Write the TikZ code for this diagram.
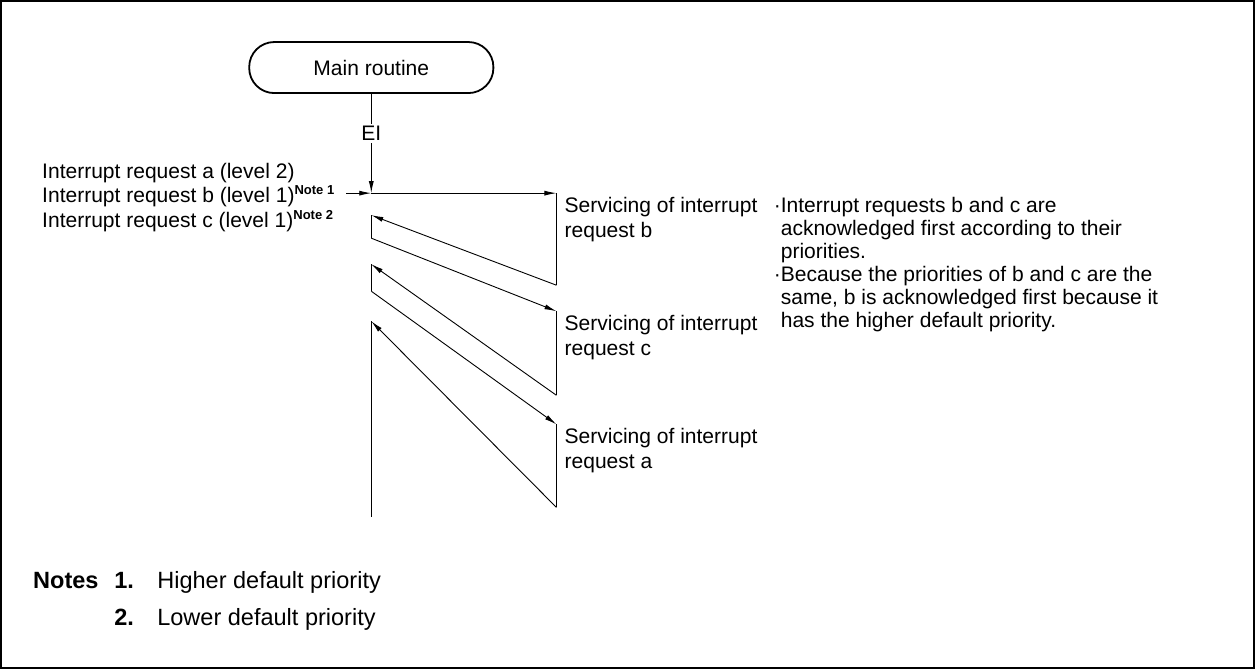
\documentclass[tikz,border=0pt]{standalone}
\usepackage{fontspec}
\setmainfont{Liberation Sans}
\usetikzlibrary{arrows.meta}

\begin{document}
\begin{tikzpicture}[
		x=1pt, y=-1pt,
		every node/.style={inner sep=0pt, font=\fontsize{21}{25}\selectfont},
		terminal/.style={draw, line width=1.8pt, rounded corners=25pt, minimum width=244pt, minimum height=51pt},
		label/.style={anchor=north west, align=left},
		note/.style={anchor=base west, font=\fontsize{23.5}{25}\selectfont},
		flow/.style={line width=0.9pt, -{Latex[length=12pt,width=5pt]}},
		seg/.style={line width=0.9pt},
		line cap=butt,
		line join=miter
		]
		
		% ---- frame ----
		\draw[line width=2pt] (1,1) rectangle (1253,667);
		
		% ---- main routine ----
		\node[terminal] (main) at (371,67.5) {Main routine};
		\coordinate (rq) at (371,193);
		\coordinate (bin) at (346,193);
		
		% ---- requests ----
		\node[anchor=base west] (reqa) at (42,178) {Interrupt request a (level 2)};
		\node[anchor=base west] (reqb) at (42,202) {Interrupt request b (level 1)\textsuperscript{\bfseries\fontsize{13}{13}\selectfont Note 1}};
		\node[anchor=base west] (reqc) at (42,227) {Interrupt request c (level 1)\textsuperscript{\bfseries\fontsize{13}{13}\selectfont Note 2}};
		
		% ---- servicing ----
		\coordinate (sb0) at (556,193);
		\coordinate (sb1) at (556,285);
		\coordinate (sc0) at (556,311);
		\coordinate (sc1) at (556,395);
		\coordinate (sa0) at (556,424);
		\coordinate (sa1) at (556,507);
		
		\coordinate (r1) at (371,215);
		\coordinate (r1e) at (371,238);
		\coordinate (r2) at (371,264);
		\coordinate (r2e) at (371,291);
		\coordinate (r3) at (371,321);
		\coordinate (r3e) at (371,517);
		
		\node[label] (txb) at (564,197) {Servicing of interrupt\\request b};
		\node[label] (txc) at (564,315) {Servicing of interrupt\\request c};
		\node[label] (txa) at (564,428) {Servicing of interrupt\\request a};
		
		\node[label, font=\fontsize{21}{23}\selectfont] (why) at (780,197)
			{\llap{\textperiodcentered}Interrupt requests b and c are\\
			acknowledged first according to their\\
			priorities.\\
			\llap{\textperiodcentered}Because the priorities of b and c are the\\
			same, b is acknowledged first because it\\
			has the higher default priority.};
		
		% ---- flow ----
		\draw[flow] (main) -- node[pos=0.4, fill=white, inner ysep=2pt] (ei) {EI} (rq);
		\draw[flow] (bin) -- (rq);
		\draw[flow] (rq) -- (sb0);
		\draw[seg] (sb0) -- (sb1);
		\draw[flow] (sb1) -- (r1);
		\draw[seg] (r1) -- (r1e);
		\draw[flow] (r1e) -- (sc0);
		\draw[seg] (sc0) -- (sc1);
		\draw[flow] (sc1) -- (r2);
		\draw[seg] (r2) -- (r2e);
		\draw[flow] (r2e) -- (sa0);
		\draw[seg] (sa0) -- (sa1);
		\draw[flow] (sa1) -- (r3);
		\draw[seg] (r3) -- (r3e);
		
		% ---- notes ----
		\node[note, font=\bfseries\fontsize{23.5}{25}\selectfont] (notes) at (33,588) {Notes};
		\node[note, font=\bfseries\fontsize{23.5}{25}\selectfont] (n1) at (114,588) {1.};
		\node[note, font=\bfseries\fontsize{23.5}{25}\selectfont] (n2) at (114,625) {2.};
		\node[note] (n1t) at (157,588) {Higher default priority};
		\node[note] (n2t) at (157,625) {Lower default priority};
	\end{tikzpicture}
\end{document}
